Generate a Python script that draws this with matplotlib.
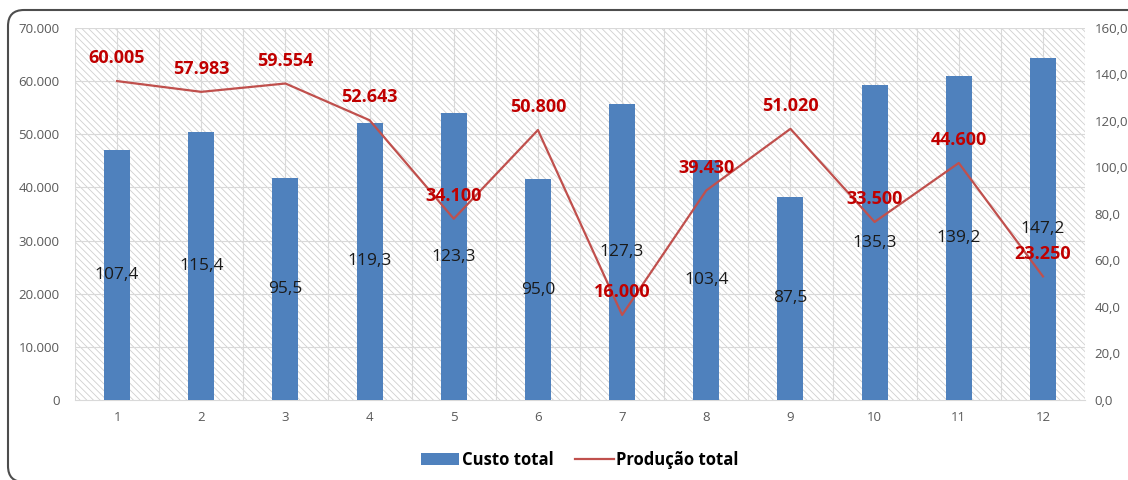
import matplotlib
matplotlib.use("Agg")
import matplotlib.pyplot as plt
from matplotlib.patches import Rectangle, FancyBboxPatch, Patch
from matplotlib.lines import Line2D
from matplotlib.ticker import FuncFormatter, MultipleLocator
from matplotlib.transforms import blended_transform_factory

# ---- data ----
meses = [1, 2, 3, 4, 5, 6, 7, 8, 9, 10, 11, 12]
custo_total = [107.4, 115.4, 95.5, 119.3, 123.3, 95.0, 127.3, 103.4, 87.5, 135.3, 139.2, 147.2]
producao_total = [60005, 57983, 59554, 52643, 34100, 50800, 16000, 39430, 51020, 33500, 44600, 23250]
rotulos_x = [str(m) for m in meses]

plt.rcParams["font.family"] = ["Open Sans", "DejaVu Sans"]
plt.rcParams["hatch.linewidth"] = 0.6

BAR_COLOR = "#4F81BD"
LINE_COLOR = "#C0504D"
LABEL_RED = "#C00000"
TICK_COLOR = "#595959"
GRID_COLOR = "#D9D9D9"

fig = plt.figure(figsize=(11.28, 4.8), dpi=100)

# rounded chart border (drawn beneath the axes)
border = FancyBboxPatch((8, -2), 1150, 472, boxstyle="round,pad=0,rounding_size=16",
                        transform=None, facecolor="white", edgecolor="#4D4D4D",
                        linewidth=1.5, zorder=-10)
fig.patches.append(border)

ax_line = fig.add_axes([0.0665, 0.1667, 0.8954, 0.775])
ax_bar = ax_line.twinx()
ax_bar.set_zorder(1)
ax_line.set_zorder(2)
ax_line.patch.set_visible(False)

# hatched plot-area background
ax_bar.add_patch(Rectangle((0, 0), 1, 1, transform=ax_bar.transAxes, facecolor="white",
                           edgecolor="#D0D0D0", hatch="\\\\\\\\\\", linewidth=0, zorder=0))

# bars on the right axis
ax_bar.bar(meses, custo_total, width=0.31, color=BAR_COLOR, zorder=3)
for x, v in zip(meses, custo_total):
    ax_bar.text(x, v / 2, f"{v:.1f}".replace(".", ","), ha="center", va="center",
                fontsize=12.5, color="#1A1A1A", zorder=4)

# line on the left axis
ax_line.plot(meses, producao_total, color=LINE_COLOR, linewidth=1.6, zorder=3)
for x, v in zip(meses, producao_total):
    ax_line.annotate(f"{v:,}".replace(",", "."), (x, v), xytext=(0, 16.5),
                     textcoords="offset points", ha="center", va="center",
                     fontsize=13, fontweight="bold", color=LABEL_RED, zorder=5)

# axes limits and ticks
ax_line.set_xlim(0.5, 12.5)
ax_line.set_ylim(0, 70000)
ax_bar.set_ylim(0, 160)
ax_line.set_xticks(meses)
ax_line.set_xticklabels(rotulos_x)
ax_line.yaxis.set_major_locator(MultipleLocator(10000))
ax_line.yaxis.set_major_formatter(FuncFormatter(lambda v, p: f"{int(v):,}".replace(",", ".")))
ax_bar.yaxis.set_major_locator(MultipleLocator(20))
ax_bar.yaxis.set_major_formatter(FuncFormatter(lambda v, p: f"{v:.1f}".replace(".", ",")))

ax_line.tick_params(axis="y", length=0, pad=11, labelsize=9.5, labelcolor=TICK_COLOR)
ax_line.tick_params(axis="x", length=0, pad=8, labelsize=9.5, labelcolor=TICK_COLOR)
ax_bar.tick_params(axis="y", length=0, pad=7, labelsize=9.5, labelcolor=TICK_COLOR)

# gridlines behind the bars: horizontal at left-axis ticks, vertical every half category
trans = blended_transform_factory(ax_bar.transAxes, ax_line.transData)
for yv in range(10000, 70001, 10000):
    ax_bar.plot([0, 1], [yv, yv], transform=trans, color=GRID_COLOR, linewidth=0.8, zorder=1)
for xv in [m - 0.5 for m in meses] + meses + [12.5]:
    ax_bar.axvline(xv, color=GRID_COLOR, linewidth=0.8, zorder=1)

for a in (ax_line, ax_bar):
    for s in a.spines.values():
        s.set_visible(False)
ax_bar.spines["bottom"].set_visible(True)
ax_bar.spines["bottom"].set_color(GRID_COLOR)

# legend
handles = [Patch(facecolor=BAR_COLOR, edgecolor="none"),
           Line2D([], [], color=LINE_COLOR, linewidth=1.6)]
fig.legend(handles, ["Custo total", "Produção total"], loc="center",
           bbox_to_anchor=(0.514, 0.042), ncol=2, frameon=False,
           prop={"weight": "bold", "size": 12}, handlelength=2.3, handleheight=0.8,
           handletextpad=0.15, columnspacing=1.3)

fig.savefig("out.png", dpi=100)
